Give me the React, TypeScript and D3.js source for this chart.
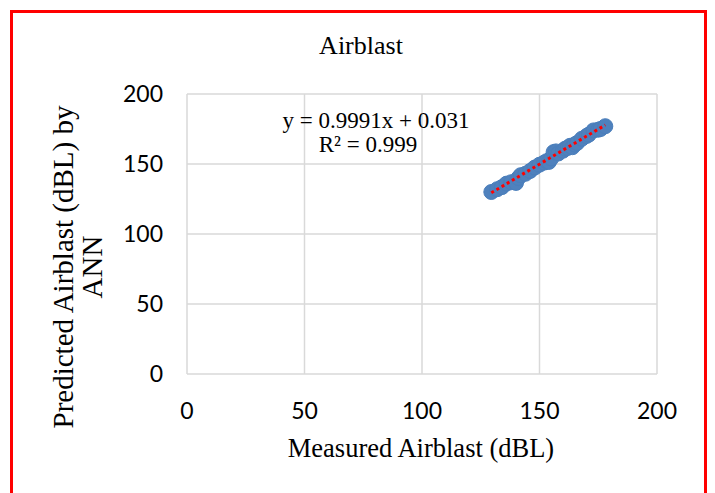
import React, { useRef, useEffect } from "react";
import * as d3 from "d3";

// measured vs predicted airblast (dBL)
const measured = [129.5, 132, 134, 136, 138, 140, 141, 142, 144, 146, 148, 150, 152, 153, 154, 155, 156, 157, 158, 160, 161, 162, 163, 164, 165, 166, 168, 170, 171, 173, 175, 176, 178];
const predicted = [130, 132, 133.5, 136, 137, 136.5, 140, 142, 143, 145, 147.5, 149.5, 151, 152, 151.5, 154, 158.5, 159, 157.5, 159.5, 161, 161.5, 163, 162, 164, 165, 168, 170, 171, 174, 174.5, 175, 177];
const xTicks = [0, 50, 100, 150, 200];
const yTicks = [0, 50, 100, 150, 200];
const slope = 0.9991;
const intercept = 0.031;

const App = () => {
  const svgRef = useRef<SVGSVGElement>(null);

  useEffect(() => {
    const w = 715;
    const h = 493;
    const margin = { top: 94, right: 58, bottom: 119, left: 187 };
    const svg = d3.select(svgRef.current);
    svg.selectAll("*").remove();

    const x = d3.scaleLinear().domain([0, 200]).range([margin.left, w - margin.right]);
    const y = d3.scaleLinear().domain([0, 200]).range([h - margin.bottom, margin.top]);

    svg.append("rect").attr("width", w).attr("height", h).attr("fill", "#fff");
    svg.append("rect")
      .attr("x", 11.5).attr("y", 11.5)
      .attr("width", 694).attr("height", 500)
      .attr("fill", "none").attr("stroke", "#ff0000").attr("stroke-width", 3);

    // grid
    const grid = svg.append("g").attr("stroke", "#d9d9d9").attr("stroke-width", 1.5);
    grid.selectAll("line.h").data(yTicks).join("line").attr("class", "h")
      .attr("x1", x(0)).attr("x2", x(200))
      .attr("y1", d => y(d)).attr("y2", d => y(d));
    grid.selectAll("line.v").data(xTicks).join("line").attr("class", "v")
      .attr("y1", y(0)).attr("y2", y(200))
      .attr("x1", d => x(d)).attr("x2", d => x(d));

    // tick labels
    const tickFont = "Lato, 'Open Sans', sans-serif";
    svg.append("g").selectAll("text").data(yTicks).join("text")
      .attr("x", x(0) - 24).attr("y", d => y(d))
      .attr("dy", "0.36em").attr("text-anchor", "end")
      .attr("font-family", tickFont).attr("font-size", 23).attr("fill", "#000")
      .text(d => d);
    svg.append("g").selectAll("text").data(xTicks).join("text")
      .attr("x", d => x(d)).attr("y", y(0) + 45)
      .attr("text-anchor", "middle")
      .attr("font-family", tickFont).attr("font-size", 23).attr("fill", "#000")
      .text(d => d);

    // points
    const data = measured.map((m, i) => ({ m, p: predicted[i] }));
    svg.append("g").selectAll("circle").data(data).join("circle")
      .attr("cx", d => x(d.m)).attr("cy", d => y(d.p)).attr("r", 7.5)
      .attr("fill", "#4f81bd").attr("stroke", "#4a7ebb").attr("stroke-width", 1);

    // trendline
    const [x0, x1] = d3.extent(measured) as [number, number];
    svg.append("line")
      .attr("x1", x(x0)).attr("y1", y(slope * x0 + intercept))
      .attr("x2", x(x1)).attr("y2", y(slope * x1 + intercept))
      .attr("stroke", "#ff0000").attr("stroke-width", 3)
      .attr("stroke-dasharray", "3 3");

    const serif = "'Liberation Serif', 'Times New Roman', serif";
    svg.append("text").attr("x", 376).attr("y", 128).attr("text-anchor", "middle")
      .attr("font-family", serif).attr("font-size", 23).text(`y = ${slope}x + ${intercept}`);
    svg.append("text").attr("x", 368).attr("y", 152).attr("text-anchor", "middle")
      .attr("font-family", serif).attr("font-size", 23).text("R² = 0.999");

    svg.append("text").attr("x", 361).attr("y", 54).attr("text-anchor", "middle")
      .attr("font-family", serif).attr("font-size", 26).text("Airblast");
    svg.append("text").attr("x", 421).attr("y", 457).attr("text-anchor", "middle")
      .attr("font-family", serif).attr("font-size", 26.5).text("Measured Airblast (dBL)");

    const yt = svg.append("text")
      .attr("transform", "translate(73,267) rotate(-90)")
      .attr("text-anchor", "middle")
      .attr("font-family", serif).attr("font-size", 29);
    yt.append("tspan").attr("x", 0).attr("y", 0).text("Predicted Airblast (dBL) by");
    yt.append("tspan").attr("x", 0).attr("y", 29).text("ANN");
  }, []);

  return (
    <svg ref={svgRef} width={715} height={493}
      style={{ position: "absolute", left: 0, top: 0, display: "block" }} />
  );
};

export default App;
